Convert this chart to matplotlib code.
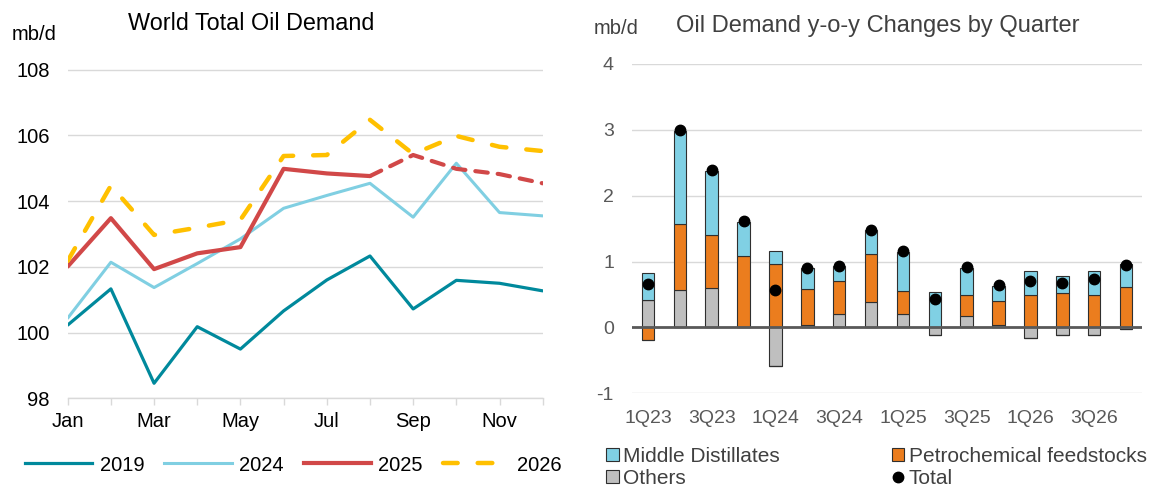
import numpy as np
import matplotlib
matplotlib.use("Agg")
import matplotlib.pyplot as plt
from matplotlib.patches import Patch
from matplotlib.lines import Line2D

plt.rcParams['font.family'] = ['Liberation Sans', 'DejaVu Sans']
plt.rcParams['axes.unicode_minus'] = False

# ---------------- data ----------------
months = ['Jan', 'Feb', 'Mar', 'Apr', 'May', 'Jun', 'Jul', 'Aug', 'Sep', 'Oct', 'Nov', 'Dec']
d2019 = [100.23, 101.33, 98.46, 100.18, 99.50, 100.66, 101.60, 102.33, 100.72, 101.59, 101.50, 101.27]
d2024 = [100.44, 102.14, 101.37, 102.10, 102.85, 103.78, 104.17, 104.54, 103.51, 105.15, 103.65, 103.55]
d2025 = [102.01, 103.48, 101.93, 102.41, 102.60, 104.98, 104.84, 104.76, 105.40, 104.98, 104.82, 104.54]
d2026 = [102.18, 104.47, 102.97, 103.19, 103.43, 105.37, 105.40, 106.47, 105.43, 105.98, 105.65, 105.52]
n_actual_2025 = 8  # Jan-Aug solid, rest forecast (dashed)

quarters = ['1Q23', '2Q23', '3Q23', '4Q23', '1Q24', '2Q24', '3Q24', '4Q24',
            '1Q25', '2Q25', '3Q25', '4Q25', '1Q26', '2Q26', '3Q26', '4Q26']
others = [0.42, 0.57, 0.60, 0.00, -0.59, 0.04, 0.20, 0.38, 0.20, -0.12, 0.18, 0.04, -0.16, -0.11, -0.12, -0.02]
petchem = [-0.19, 1.00, 0.80, 1.09, 0.97, 0.55, 0.50, 0.73, 0.35, 0.00, 0.32, 0.36, 0.50, 0.52, 0.49, 0.62]
middle = [0.41, 1.42, 0.97, 0.51, 0.19, 0.31, 0.23, 0.37, 0.60, 0.54, 0.41, 0.23, 0.35, 0.26, 0.37, 0.35]
total = [0.66, 3.00, 2.39, 1.61, 0.57, 0.90, 0.94, 1.48, 1.16, 0.43, 0.92, 0.65, 0.70, 0.68, 0.74, 0.95]

# ---------------- styles ----------------
C2019 = '#00899C'
C2024 = '#80CFE2'
C2025 = '#D14848'
C2026 = '#FFC000'
C_MD = '#80D0E4'
C_PC = '#EB7D1E'
C_OT = '#BFBFBF'
GRID = '#D9D9D9'
FSL = 14.5
FSR = 14

W, H = 1153, 490
fig = plt.figure(figsize=(W / 100, H / 100), dpi=100)

# ---------------- left chart ----------------
axL = fig.add_axes([67.7 / W, (H - 398.4) / H, (542.7 - 67.7) / W, (398.4 - 69.5) / H])
x = np.arange(len(months))
axL.plot(x, d2019, color=C2019, lw=2.3, solid_capstyle='round', zorder=3)
axL.plot(x, d2024, color=C2024, lw=2.2, solid_capstyle='round', zorder=3)
axL.plot(x[:n_actual_2025], d2025[:n_actual_2025], color=C2025, lw=3.0,
         solid_capstyle='round', zorder=4)
axL.plot(x[n_actual_2025 - 1:], d2025[n_actual_2025 - 1:], color=C2025, lw=3.0,
         dashes=(3.0, 2.4), dash_capstyle='round', zorder=4)
axL.plot(x, d2026, color=C2026, lw=3.2, dashes=(3.3, 4.5), dash_capstyle='round', zorder=5)

axL.set_xlim(0, 11)
axL.set_ylim(98, 108)
axL.set_yticks([98, 100, 102, 104, 106, 108])
axL.set_xticks(x)
axL.set_xticklabels([m if i % 2 == 0 else '' for i, m in enumerate(months)])
axL.grid(axis='y', color=GRID, lw=1.0)
axL.set_axisbelow(True)
for s in ['top', 'right', 'left']:
    axL.spines[s].set_visible(False)
axL.spines['bottom'].set_color(GRID)
axL.spines['bottom'].set_linewidth(1.0)
axL.tick_params(axis='y', length=0, pad=13, labelsize=FSL, labelcolor='black')
axL.tick_params(axis='x', length=5, width=1.0, color=GRID, pad=4.5, labelsize=FSL,
                labelcolor='black')

fig.text(251 / W, (H - 23) / H, 'World Total Oil Demand', fontsize=16.8,
         ha='center', va='center', color='black')
fig.text(12 / W, (H - 35) / H, 'mb/d', fontsize=14.5, ha='left', va='center', color='black')

handlesL = [Line2D([], [], color=C2019, lw=2.3),
            Line2D([], [], color=C2024, lw=2.2),
            Line2D([], [], color=C2025, lw=3.0),
            Line2D([], [], color=C2026, lw=3.2, dashes=(3.3, 4.5), dash_capstyle='round')]
fig.legend(handlesL, ['2019', '2024', '2025', '2026'], ncol=4, frameon=False,
           loc='center left', bbox_to_anchor=(25 / W, (H - 465) / H),
           borderaxespad=0, borderpad=0, fontsize=FSL, handlelength=3.35,
           handletextpad=0.35, columnspacing=1.0)

# ---------------- right chart ----------------
axR = fig.add_axes([632 / W, (H - 393.3) / H, (1142 - 632) / W, (393.3 - 64) / H])
q = np.arange(len(quarters))
series = [(np.array(others), C_OT), (np.array(petchem), C_PC), (np.array(middle), C_MD)]
pos_bottom = np.zeros(len(q))
neg_bottom = np.zeros(len(q))
bw = 0.39
for vals, col in series:
    pos = np.where(vals > 0, vals, 0)
    neg = np.where(vals < 0, vals, 0)
    axR.bar(q, pos, bottom=pos_bottom, width=bw, color=col, edgecolor='#2f2f2f',
            linewidth=0.8, zorder=3)
    axR.bar(q, neg, bottom=neg_bottom, width=bw, color=col, edgecolor='#2f2f2f',
            linewidth=0.8, zorder=3)
    pos_bottom += pos
    neg_bottom += neg
axR.plot(q, total, 'o', color='black', markersize=7.5, zorder=5)

axR.set_xlim(-0.5, len(q) - 0.5)
axR.set_ylim(-1, 4)
axR.set_yticks([-1, 0, 1, 2, 3, 4])
axR.set_xticks(q[::2])
axR.set_xticklabels(quarters[::2])
axR.grid(axis='y', color=GRID, lw=1.0)
axR.set_axisbelow(True)
axR.axhline(0, color='#595959', lw=2.0, zorder=4)
for s in ['top', 'right', 'left', 'bottom']:
    axR.spines[s].set_visible(False)
axR.tick_params(axis='y', length=0, pad=13, labelsize=FSR, labelcolor='#595959')
axR.tick_params(axis='x', length=0, pad=12, labelsize=FSR, labelcolor='#595959')

fig.text(878 / W, (H - 26) / H, 'Oil Demand y-o-y Changes by Quarter', fontsize=17,
         ha='center', va='center', color='#404040')
fig.text(594 / W, (H - 29) / H, 'mb/d', fontsize=14.5, ha='left', va='center', color='#404040')

handlesR = [Patch(facecolor=C_MD, edgecolor='#2f2f2f', lw=0.8),
            Patch(facecolor=C_OT, edgecolor='#2f2f2f', lw=0.8),
            Patch(facecolor=C_PC, edgecolor='#2f2f2f', lw=0.8),
            Line2D([], [], marker='o', color='black', ls='none', markersize=7.5)]
fig.legend(handlesR, ['Middle Distillates', 'Others', 'Petrochemical feedstocks', 'Total'],
           ncol=2, frameon=False, loc='upper left',
           bbox_to_anchor=(606 / W, (H - 447) / H), borderaxespad=0, borderpad=0,
           fontsize=15, handlelength=0.6, handleheight=0.6, handletextpad=0.2,
           columnspacing=5.4, labelspacing=0.12, labelcolor='#404040')

fig.savefig('out.png', dpi=100)
